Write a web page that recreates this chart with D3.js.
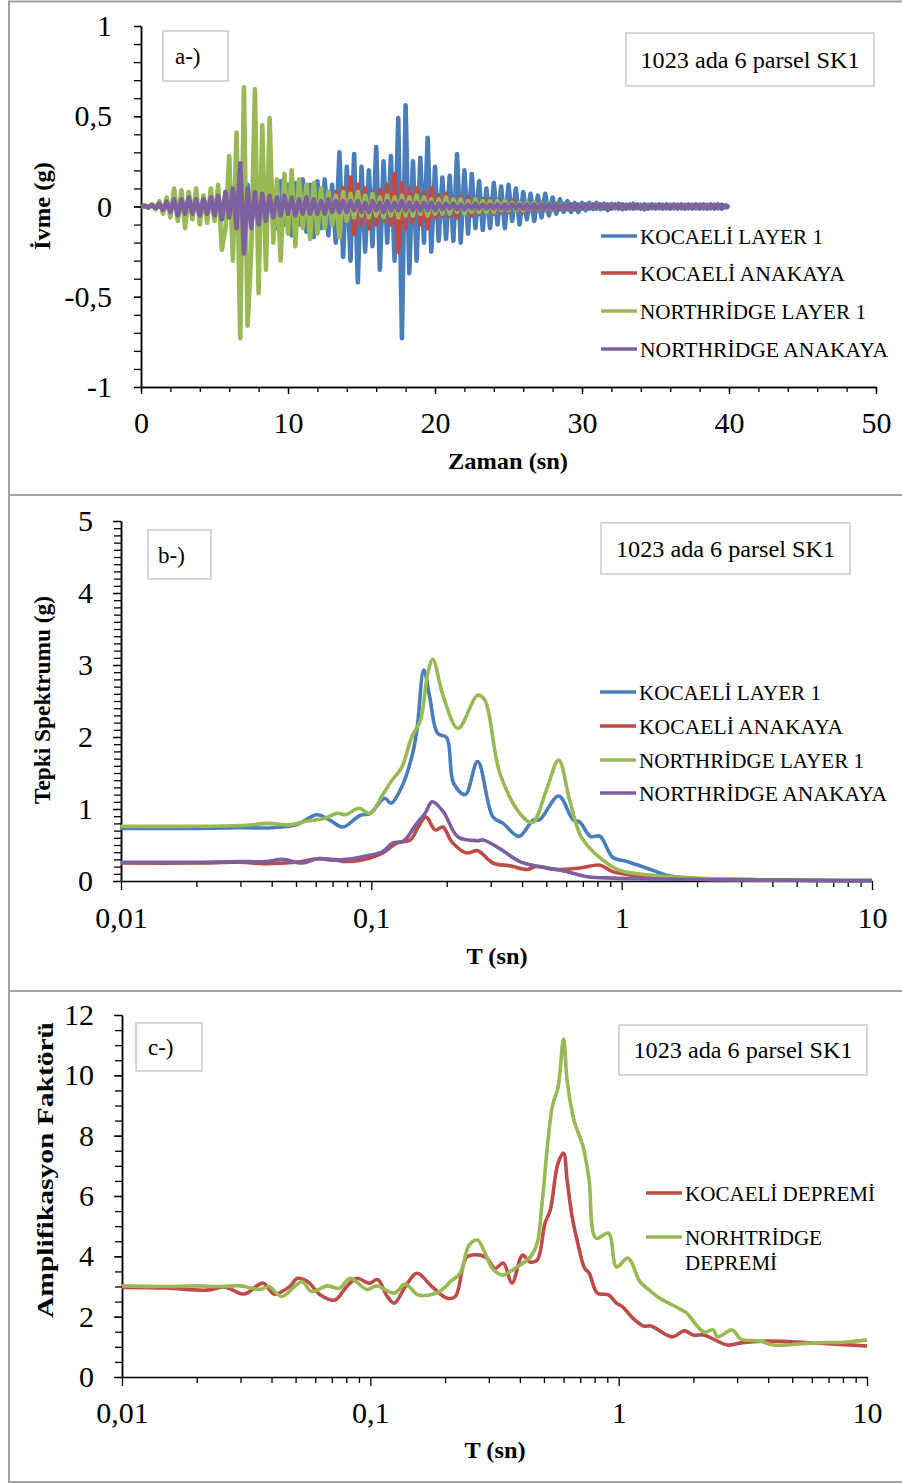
<!DOCTYPE html>
<html><head><meta charset="utf-8">
<script src="https://cdn.jsdelivr.net/npm/d3@7"></script>
<style>
html,body{margin:0;padding:0;background:#fff;}
svg{display:block;font-family:"Liberation Serif","Times New Roman",serif;}
</style></head><body>
<svg id="chart" width="902" height="1483"></svg>
<script>
// ---------------- DATA ----------------
const dt = 0.25;
const kocaeliLayer1Acc = [
 0,0.005,-0.005,0.01,-0.01,0.015,-0.02,0.02,-0.025,
 0.03,-0.04,0.04,-0.03,0.05,-0.04,0.04,-0.05,0.05,-0.04,0.05,-0.05,
 0.06,-0.07,0.08,-0.06,0.09,-0.1,0.1,-0.08,0.12,-0.1,0.09,-0.12,0.1,-0.09,0.12,-0.1,
 -0.12,0.14,-0.1,0.12,-0.16,0.13,-0.1,0.15,-0.14,0.12,-0.17,0.14,-0.12,0.15,-0.16,0.12,
 -0.2,0.30,-0.28,0.22,-0.3,0.29,-0.42,0.22,-0.25,0.2,-0.22,0.33,-0.35,0.25,-0.2,0.28,-0.3,0.49,-0.73,0.56,-0.37,0.25,-0.3,0.27,-0.2,0.38,-0.25,0.22,
 -0.19,0.16,-0.18,0.17,-0.19,0.29,-0.2,0.2,-0.15,0.18,-0.12,0.14,-0.13,0.1,-0.12,0.13,-0.1,0.11,-0.12,0.12,
 -0.08,0.1,-0.1,0.08,-0.07,0.07,-0.08,0.06,-0.06,0.07,-0.05,0.05,-0.04,0.04,-0.03,0.03,-0.03,0.02,-0.03,0.02,
 -0.02,0.02,-0.015,0.02,-0.015,0.015,-0.02,0.015,-0.01,0.015,-0.015,0.01,-0.01,0.015,-0.01,0.01,-0.015,0.01,-0.01,0.01,
 -0.01,0.01,-0.01,0.01,-0.01,0.01,-0.01,0.01,-0.01,0.01,-0.01,0.01,-0.01,0.01,-0.01,0.01,-0.01,0.01,-0.005,0.005
];
const kocaeliAnakayaAcc = [
 0,0.005,-0.005,0.01,-0.01,0.01,-0.015,0.015,-0.015,
 0.02,-0.02,0.025,-0.02,0.02,-0.025,0.02,-0.02,0.025,-0.02,0.02,-0.025,
 0.03,-0.03,0.04,-0.03,0.03,-0.04,0.04,-0.03,0.03,-0.04,0.04,-0.03,0.03,-0.04,0.04,-0.03,
 0.04,-0.05,0.05,-0.04,0.05,-0.05,0.06,-0.05,0.05,-0.06,0.06,-0.05,0.07,-0.06,0.06,-0.07,
 0.08,-0.06,0.1,-0.08,0.16,-0.15,0.12,-0.1,0.1,-0.12,0.08,-0.1,0.09,-0.08,0.12,-0.1,0.18,-0.25,0.13,-0.12,0.1,-0.08,0.1,-0.1,0.08,-0.12,0.1,-0.06,
 0.06,-0.05,0.07,-0.05,0.05,-0.06,0.05,-0.04,0.05,-0.05,0.04,-0.04,0.04,-0.03,0.04,-0.04,0.03,-0.03,0.03,-0.03,
 0.03,-0.02,0.02,-0.03,0.02,-0.02,0.02,-0.02,0.02,-0.02,0.015,-0.02,0.015,-0.015,0.015,-0.015,0.01,-0.015,0.01,-0.01,
 0.01,-0.01,0.01,-0.01,0.01,-0.01,0.01,-0.01,0.01,-0.01,0.01,-0.01,0.01,-0.01,0.01,-0.01,0.01,-0.01,0.01,-0.01,
 0.01,-0.01,0.01,-0.01,0.01,-0.01,0.01,-0.01,0.01,-0.01,0.01,-0.01,0.01,-0.01,0.01,-0.01,0.01,-0.01,0.005,-0.005
];
const northridgeLayer1Acc = [
 0,0.005,-0.005,0.01,-0.015,0.03,-0.04,0.05,-0.06,
 0.1,-0.08,0.09,-0.12,0.08,-0.07,0.1,-0.1,0.06,-0.09,0.1,-0.08,
 0.12,-0.24,-0.12,0.28,-0.3,0.41,-0.73,0.66,-0.66,-0.25,0.65,-0.48,0.45,-0.35,0.49,-0.2,
 0.15,-0.3,0.18,-0.15,0.2,-0.22,0.15,-0.12,0.12,-0.18,0.13,-0.15,0.1,-0.12,0.08,-0.1,
 0.06,-0.17,0.08,-0.08,0.07,-0.06,0.08,-0.05,
 0.06,-0.06,0.07,-0.05,0.05,-0.06,0.06,-0.05,0.05,-0.06,0.06,-0.05,0.05,-0.05,0.06,-0.04,0.05,-0.05,0.04,-0.04,
 0.04,-0.04,0.05,-0.04,0.04,-0.03,0.04,-0.04,0.03,-0.03,0.04,-0.03,0.03,-0.03,0.03,-0.03,0.03,-0.02,0.03,-0.02,
 0.02,-0.02,0.02,-0.02,0.02,-0.015,0.02,-0.015,0.015,-0.015,0.015,-0.015,0.015,-0.01,0.015,-0.01,0.01,-0.01,0.01,-0.01,
 0.01,-0.01,0.01,-0.01,0.01,-0.01,0.01,-0.01,0.01,-0.01,0.01,-0.01,0.01,-0.01,0.01,-0.01,0.01,-0.01,0.01,-0.01,
 0.01,-0.01,0.01,-0.01,0.01,-0.01,0.01,-0.01,0.01,-0.01,0.01,-0.01,0.01,-0.01,0.01,-0.01,0.01,-0.01,0.005,-0.005
];
const northridgeAnakayaAcc = [
 0,0.003,-0.005,0.008,-0.01,0.015,-0.02,0.025,-0.03,
 0.04,-0.05,0.04,-0.04,0.05,-0.04,0.04,-0.05,0.04,-0.04,0.05,-0.05,
 0.06,-0.07,0.08,-0.06,0.1,-0.12,0.24,-0.26,0.1,-0.12,0.08,-0.1,0.07,-0.08,0.06,-0.06,
 0.05,-0.05,0.06,-0.04,0.05,-0.05,0.04,-0.04,0.05,-0.04,0.04,-0.04,0.03,-0.04,0.04,-0.03,
 0.03,-0.03,0.03,-0.03,0.03,-0.02,0.03,-0.03,0.02,-0.03,0.03,-0.02,0.02,-0.03,0.03,-0.02,0.02,-0.02,0.03,-0.02,0.02,-0.02,0.02,-0.02,0.02,-0.02,0.02,-0.02,
 0.015,-0.015,0.015,-0.01,0.015,-0.015,0.01,-0.015,0.01,-0.01,0.015,-0.01,0.01,-0.01,0.01,-0.01,0.01,-0.01,0.01,-0.01,
 0.01,-0.01,0.01,-0.01,0.01,-0.01,0.01,-0.01,0.01,-0.01,0.01,-0.01,0.01,-0.01,0.01,-0.01,0.01,-0.01,0.01,-0.01,
 0.01,-0.01,0.01,-0.01,0.01,-0.01,0.01,-0.01,0.01,-0.01,0.01,-0.01,0.01,-0.01,0.01,-0.01,0.01,-0.01,0.01,-0.01,
 0.01,-0.01,0.01,-0.01,0.01,-0.01,0.01,-0.01,0.01,-0.01,0.01,-0.01,0.01,-0.01,0.01,-0.01,0.01,-0.01,0.005,-0.005
];

// Panel b: response spectra (T in s, Sa in g)
const kocaeliLayer1T = [0.01,0.02,0.03,0.04,0.05,0.0607,0.068,0.077,0.09,0.099,0.113,0.12,0.132,0.145,0.152,0.162,0.171,0.184,0.2,0.213,0.237,0.266,0.306,0.336,0.389,0.444,0.47,0.56,0.64,0.68,0.75,0.82,0.92,1.05,1.33,1.51,2,3,5,10];
const kocaeliLayer1Sa = [0.73,0.73,0.74,0.74,0.78,0.92,0.85,0.75,0.91,0.94,1.15,1.08,1.30,1.72,2.09,2.93,2.56,2.05,1.99,1.36,1.20,1.66,0.89,0.80,0.62,0.85,0.85,1.18,0.85,0.82,0.62,0.62,0.33,0.27,0.15,0.08,0.03,0.02,0.01,0.0];
const kocaeliAnakayaT = [0.01,0.02,0.03,0.037,0.05,0.061,0.07,0.08,0.099,0.111,0.127,0.143,0.154,0.165,0.18,0.193,0.21,0.24,0.266,0.306,0.358,0.42,0.45,0.55,0.68,0.82,0.92,1.11,2,3,5,10];
const kocaeliAnakayaSa = [0.25,0.25,0.26,0.24,0.26,0.31,0.30,0.27,0.32,0.39,0.53,0.57,0.75,0.89,0.71,0.75,0.54,0.39,0.42,0.25,0.21,0.16,0.20,0.16,0.18,0.22,0.13,0.08,0.03,0.02,0.01,0.005];
const northridgeLayer1T = [0.01,0.02,0.03,0.0394,0.047,0.055,0.065,0.073,0.079,0.089,0.099,0.111,0.121,0.132,0.145,0.157,0.168,0.176,0.194,0.222,0.266,0.284,0.326,0.392,0.44,0.50,0.56,0.62,0.69,0.82,0.98,1.33,2,3,5,10];
const northridgeLayer1Sa = [0.76,0.76,0.77,0.80,0.78,0.83,0.87,0.94,0.92,1.01,0.94,1.20,1.40,1.57,2.00,2.23,2.88,3.08,2.56,2.12,2.58,2.51,1.50,0.94,0.81,1.26,1.68,1.12,0.61,0.32,0.15,0.08,0.04,0.02,0.01,0.005];
const northridgeAnakayaT = [0.01,0.02,0.03,0.038,0.044,0.053,0.061,0.07,0.080,0.093,0.111,0.122,0.134,0.152,0.164,0.175,0.194,0.222,0.266,0.28,0.326,0.392,0.47,0.57,0.73,0.92,1.2,2,3,5,10];
const northridgeAnakayaSa = [0.26,0.26,0.27,0.27,0.30,0.25,0.31,0.29,0.30,0.34,0.41,0.53,0.55,0.80,0.94,1.10,0.96,0.61,0.56,0.57,0.45,0.27,0.20,0.15,0.06,0.04,0.03,0.02,0.015,0.01,0.005];

// Panel c: amplification factors
const kocaeliAmpT = [0.01,0.015,0.022,0.026,0.031,0.037,0.041,0.047,0.051,0.056,0.063,0.072,0.080,0.088,0.099,0.107,0.117,0.125,0.138,0.154,0.178,0.204,0.22,0.245,0.277,0.295,0.318,0.343,0.372,0.41,0.44,0.47,0.505,0.53,0.57,0.60,0.62,0.65,0.68,0.73,0.76,0.82,0.91,0.98,1.04,1.14,1.26,1.35,1.64,1.84,2.0,2.2,2.75,3.1,3.97,6.1,10];
const kocaeliAmp = [2.97,2.95,2.88,2.98,2.75,3.11,2.75,2.98,3.27,3.16,2.72,2.55,2.98,3.27,3.11,3.23,2.67,2.45,2.98,3.44,2.98,2.61,2.67,3.98,4.04,3.94,3.6,3.78,3.12,4.04,3.81,3.88,5.1,5.53,7.09,7.42,6.53,5.3,4.54,3.6,3.45,2.78,2.72,2.45,2.32,1.95,1.69,1.69,1.33,1.53,1.39,1.39,1.06,1.13,1.19,1.13,1.03];
const northridgeAmpT = [0.01,0.015,0.02,0.025,0.030,0.036,0.039,0.044,0.053,0.058,0.067,0.075,0.083,0.097,0.106,0.125,0.138,0.156,0.18,0.195,0.21,0.23,0.25,0.27,0.29,0.31,0.34,0.39,0.44,0.47,0.49,0.54,0.57,0.60,0.62,0.66,0.72,0.76,0.81,0.91,0.98,1.09,1.22,1.33,1.46,1.77,1.88,2.2,2.4,2.5,2.87,3.1,3.7,4.2,6.1,8.3,10];
const northridgeAmp = [3.02,3.0,3.02,3.0,3.02,2.9,3.0,2.67,3.16,2.83,3.02,2.94,3.27,2.9,3.02,2.78,3.08,2.72,2.75,2.9,3.16,3.44,4.37,4.54,4.1,3.6,3.38,3.65,3.97,4.44,5.64,8.95,9.6,11.2,9.84,8.52,7.62,6.53,4.6,4.77,3.65,3.94,3.15,2.88,2.62,2.25,2.12,1.49,1.56,1.33,1.56,1.26,1.19,1.06,1.13,1.16,1.23];

// Labels and ticks
const namesA = ["KOCAELİ LAYER 1","KOCAELİ ANAKAYA","NORTHRİDGE LAYER 1","NORTHRİDGE ANAKAYA"];
const namesC = ["KOCAELİ DEPREMİ","NORHTRİDGE DEPREMİ"];
const timeTicks = [0,10,20,30,40,50];
const accTicks = [-1,-0.5,0,0.5,1];
const spectrumTicks = [0,1,2,3,4,5];
const ampTicks = [0,2,4,6,8,10,12];
const periodTicks = [0.01,0.1,1,10];
const boxTitle = "1023 ada 6 parsel SK1";
const panelTags = ["a-)","b-)","c-)"];

// ---------------- DRAWING ----------------
const COLORS = ["#4A7EBB","#BE4B48","#98B954","#7D60A0"];
const TICK_FONT = 30;
const fmt = d => String(d).replace(".", ",");
const svg = d3.select("#chart");
const FONT = "'Liberation Serif','Times New Roman',serif";

// panel frames
[[1.5,493.5],[495,496],[991,491]].forEach(([y,h]) => {
  svg.append("rect").attr("x",9).attr("y",y).attr("width",920).attr("height",h)
    .attr("fill","none").attr("stroke","#a3a3a3").attr("stroke-width",2);
});

function styleAxis(g) {
  g.attr("font-family", FONT).attr("font-size", TICK_FONT);
  g.selectAll("path.domain").attr("stroke","#000").attr("stroke-width",1.5);
  g.selectAll(".tick line").attr("stroke","#000").attr("stroke-width",1.3);
  g.selectAll(".tick text").attr("fill","#000");
}

function box(x, y, w, h, text, size, tx, len) {
  svg.append("rect").attr("x",x).attr("y",y).attr("width",w).attr("height",h)
    .attr("fill","#fff").attr("stroke","#c4c4c4").attr("stroke-width",1.3);
  const t = svg.append("text").attr("font-family",FONT).attr("font-size",size)
    .attr("x", tx).attr("y", y + h/2).attr("dy","0.35em").text(text);
  if (len) t.attr("text-anchor","middle").attr("textLength",len).attr("lengthAdjust","spacingAndGlyphs");
}

function axisTitle(x, y, text, rotate, len) {
  const t = svg.append("text").attr("font-family",FONT).attr("font-size",23).attr("font-weight","bold")
    .attr("text-anchor","middle").attr("transform", `translate(${x},${y}) rotate(${rotate})`)
    .attr("dy","0.35em").text(text);
  if (len) t.attr("textLength",len).attr("lengthAdjust","spacingAndGlyphs");
}

function legend(entries, x1, x2, tx, ys, lens, colors) {
  entries.forEach((e, i) => {
    if (e.line) svg.append("line").attr("x1",x1).attr("x2",x2).attr("y1",ys[i]).attr("y2",ys[i])
      .attr("stroke",colors[e.c]).attr("stroke-width",3.5);
    svg.append("text").attr("font-family",FONT).attr("font-size",22).attr("x",tx).attr("y",ys[i])
      .attr("dy","0.35em").attr("textLength",lens[i]).attr("lengthAdjust","spacingAndGlyphs").text(e.t);
  });
}

// ---------- Panel a ----------
{
  const x = d3.scaleLinear().domain([0,50]).range([141,876]);
  const y = d3.scaleLinear().domain([-1,1]).range([387,26]);
  styleAxis(svg.append("g").attr("transform","translate(141,0)")
    .call(d3.axisLeft(y).tickValues(d3.range(-1,1.0001,0.1)).tickSize(7).tickSizeOuter(0).tickFormat("")));
  styleAxis(svg.append("g").attr("transform","translate(141,0)")
    .call(d3.axisLeft(y).tickValues(accTicks).tickSize(7).tickPadding(22).tickSizeOuter(0).tickFormat(fmt)));
  styleAxis(svg.append("g").attr("transform","translate(0,387)")
    .call(d3.axisBottom(x).tickValues(d3.range(0,50.001,2)).tickSize(5).tickSizeOuter(0).tickFormat("")));
  styleAxis(svg.append("g").attr("transform","translate(0,387)")
    .call(d3.axisBottom(x).tickValues(timeTicks).tickSize(7).tickPadding(18).tickSizeOuter(0).tickFormat(fmt)));

  const series = [kocaeliLayer1Acc, kocaeliAnakayaAcc, northridgeLayer1Acc, northridgeAnakayaAcc];
  const line = d3.line().x((d,i) => x(i*dt)).y(d => y(d));
  series.forEach((s, k) => {
    svg.append("path").datum(s).attr("d", line).attr("fill","none")
      .attr("stroke", COLORS[k]).attr("stroke-width", 4.6).attr("stroke-linejoin","round");
  });

  axisTitle(508, 461, "Zaman (sn)", 0, 120);
  axisTitle(42, 206, "İvme (g)", -90, 88);
  box(163, 31, 65, 50, panelTags[0], 23, 175);
  box(626, 33, 248, 53, boxTitle, 24, 750, 219);
  legend(namesA.map((t,i)=>({t, c:i, line:true})), 601, 637, 640, [236,273,311,349], [183,205,226,248], COLORS);
}

// ---------- Log panels ----------
function logAxes(xr, yTop, yBot, yMax, majors, minorStep, padX) {
  const x = d3.scaleLog().domain([0.01,10]).range(xr);
  const y = d3.scaleLinear().domain([0,yMax]).range([yBot,yTop]);
  styleAxis(svg.append("g").attr("transform",`translate(${xr[0]},0)`)
    .call(d3.axisLeft(y).tickValues(d3.range(0,yMax+0.0001,minorStep)).tickSize(7).tickSizeOuter(0).tickFormat("")));
  styleAxis(svg.append("g").attr("transform",`translate(${xr[0]},0)`)
    .call(d3.axisLeft(y).tickValues(majors).tickSize(8).tickPadding(20).tickSizeOuter(0).tickFormat(fmt)));
  const all = [];
  [0.01,0.1,1].forEach(dec => { for (let k=1;k<=9;k++) all.push(+(k*dec).toPrecision(2)); });
  all.push(10);
  const gX = svg.append("g").attr("transform",`translate(0,${yBot})`)
    .call(d3.axisBottom(x).tickValues(all).tickSize(6).tickPadding(padX).tickSizeOuter(0)
      .tickFormat(d => periodTicks.includes(d) ? fmt(d) : ""));
  styleAxis(gX);
  gX.selectAll(".tick line").attr("y2", d => periodTicks.includes(d) ? 9 : 6);
  return {x, y};
}

// ---------- Panel b ----------
{
  const {x, y} = logAxes([121,872], 521, 881, 5, spectrumTicks, 0.1, 19.2);
  const data = [
    [kocaeliLayer1T, kocaeliLayer1Sa],
    [kocaeliAnakayaT, kocaeliAnakayaSa],
    [northridgeLayer1T, northridgeLayer1Sa],
    [northridgeAnakayaT, northridgeAnakayaSa]
  ];
  const line = d3.line().x(d => x(d[0])).y(d => y(d[1])).curve(d3.curveCatmullRom.alpha(0.5));
  data.forEach(([T, S], k) => {
    svg.append("path").datum(T.map((t,i)=>[t,S[i]])).attr("d", line).attr("fill","none")
      .attr("stroke", COLORS[k]).attr("stroke-width", 3.6).attr("stroke-linejoin","round");
  });
  axisTitle(497, 956, "T (sn)", 0, 61);
  axisTitle(42, 700, "Tepki Spektrumu (g)", -90, 208);
  box(148, 530, 63, 49, panelTags[1], 23, 158);
  box(601, 523, 249, 51, boxTitle, 24, 725.5, 219);
  legend(namesA.map((t,i)=>({t, c:i, line:true})), 600, 636, 639, [692,726,760,793], [182,204,225,248], COLORS);
}

// ---------- Panel c ----------
{
  const {x, y} = logAxes([122,867], 1015, 1377, 12, ampTicks, 0.5, 18.2);
  const data = [[kocaeliAmpT, kocaeliAmp, 1],[northridgeAmpT, northridgeAmp, 2]];
  const line = d3.line().x(d => x(d[0])).y(d => y(d[1])).curve(d3.curveCatmullRom.alpha(0.5));
  data.forEach(([T, A, c]) => {
    svg.append("path").datum(T.map((t,i)=>[t,A[i]])).attr("d", line).attr("fill","none")
      .attr("stroke", COLORS[c]).attr("stroke-width", 3.6).attr("stroke-linejoin","round");
  });
  axisTitle(495, 1450, "T (sn)", 0, 61);
  axisTitle(45, 1170, "Amplifikasyon Faktörü", -90, 296);
  box(136, 1023, 66, 48, panelTags[2], 23, 148);
  box(619, 1025, 248, 50, boxTitle, 24, 743, 219);
  const words = namesC[1].split(" ");
  legend([{t:namesC[0], c:1, line:true},{t:words[0], c:2, line:true},{t:words[1], c:2, line:false}],
    646, 682, 685, [1193,1237,1262], [190,137,92], COLORS);
}
</script>
</body></html>
